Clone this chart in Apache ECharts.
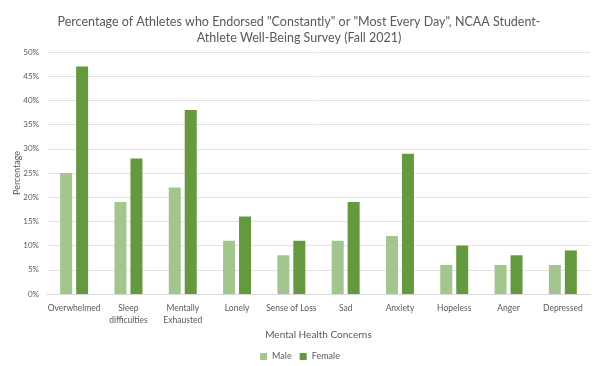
<!DOCTYPE html>
<html><head><meta charset="utf-8">
<script src="https://cdn.jsdelivr.net/npm/echarts@6/dist/echarts.min.js"></script>
<style>html,body{margin:0;padding:0;background:#fff}#c{width:600px;height:366px}</style>
</head><body><div id="c"></div>
<script>
var categories = ["Overwhelmed","Sleep\ndifficulties","Mentally\nExhausted","Lonely","Sense of Loss","Sad","Anxiety","Hopeless","Anger","Depressed"];
var male = [25,19,22,11,8,11,12,6,6,6];
var female = [47,28,38,16,11,19,29,10,8,9];
var yTicks = {min:0, max:50, interval:5};
var font = "Lato, 'Open Sans', sans-serif";
var chart = echarts.init(document.getElementById('c'));
chart.setOption({
  animation:false,
  title:{text:'Percentage of Athletes who Endorsed "Constantly" or "Most Every Day", NCAA Student-\nAthlete Well-Being Survey (Fall 2021)',
    left:294, top:9, textAlign:'center',
    textStyle:{fontFamily:font, fontSize:12.5, fontWeight:'normal', color:'#595959', lineHeight:16, align:'center'}},
  legend:{top:347, left:'center', itemWidth:7, itemHeight:7, itemGap:8,
    icon:'rect', textStyle:{fontFamily:font, fontSize:9, color:'#595959'}, data:['Male','Female']},
  grid:{left:47, right:10, top:52, bottom:72, outerBoundsMode:'none', containLabel:false},
  xAxis:{type:'category', data:categories,
    axisLine:{lineStyle:{color:'#d9d9d9'}}, axisTick:{show:false},
    axisLabel:{fontFamily:font, fontSize:8.5, color:'#595959', margin:8, lineHeight:12, interval:0},
    name:'Mental Health Concerns', nameLocation:'middle', nameGap:36, nameMoveOverlap:false,
    nameTextStyle:{fontFamily:font, fontSize:10, color:'#595959'}},
  yAxis:{type:'value', min:yTicks.min, max:yTicks.max, interval:yTicks.interval,
    axisLabel:{formatter:'{value}%', fontFamily:font, fontSize:8, color:'#595959', margin:8},
    splitLine:{lineStyle:{color:'#e3e3e3'}}, axisLine:{show:false}, axisTick:{show:false},
    name:'Percentage', nameLocation:'middle', nameGap:25, nameMoveOverlap:false,
    nameTextStyle:{fontFamily:font, fontSize:9, color:'#595959'}},
  series:[
    {name:'Male', type:'bar', data:male, barWidth:12, barGap:'33%', itemStyle:{color:'#a3c58e'}},
    {name:'Female', type:'bar', data:female, barWidth:12, itemStyle:{color:'#64993f'}}
  ]
});
</script></body></html>
